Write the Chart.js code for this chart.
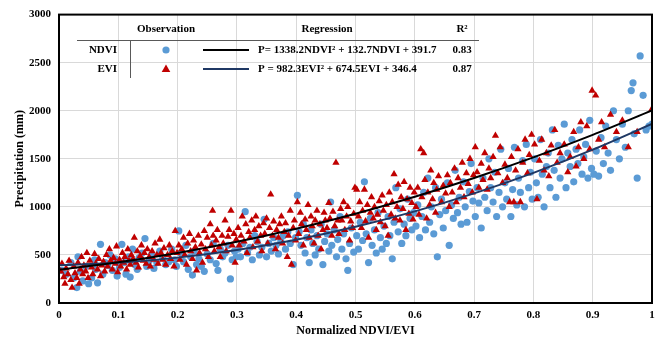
<!DOCTYPE html>
<html>
<head>
<meta charset="utf-8">
<script src="https://cdn.jsdelivr.net/npm/chart.js@4"></script>
<style>
  html, body { margin: 0; padding: 0; background: #fff; }
  #wrap { width: 662px; height: 342px; }
</style>
</head>
<body>
<div id="wrap"><canvas id="chart" width="662" height="342"></canvas></div>
<script>
// observed points, [normalized index, precipitation mm]
const ndviPoints = [
  [0.005,340],[0.012,300],[0.02,420],[0.025,260],[0.03,160],[0.032,480],[0.036,330],[0.04,230],[0.045,380],[0.05,200],[0.055,260],[0.06,450],[0.062,350],[0.065,210],[0.07,610],[0.074,300],[0.078,420],[0.082,390],[0.086,500],[0.09,340],[0.095,460],[0.098,280],
  [0.102,370],[0.106,610],[0.11,420],[0.113,300],[0.117,480],[0.12,270],[0.124,560],[0.128,400],[0.132,350],[0.135,470],[0.14,520],[0.145,670],[0.148,380],[0.152,440],[0.156,500],[0.16,360],[0.165,420],[0.17,540],[0.175,470],[0.18,400],[0.185,430],[0.19,560],[0.195,450],[0.198,380],
  [0.202,750],[0.205,520],[0.21,430],[0.214,600],[0.218,350],[0.222,480],[0.225,290],[0.228,540],[0.232,400],[0.236,460],[0.24,380],[0.245,330],[0.25,510],[0.255,450],[0.26,620],[0.265,410],[0.268,340],[0.272,560],[0.276,480],[0.28,520],[0.285,600],[0.289,250],[0.292,450],[0.296,540],[0.299,480],
  [0.302,560],[0.306,480],[0.31,620],[0.314,950],[0.318,520],[0.322,580],[0.326,450],[0.33,700],[0.334,640],[0.338,500],[0.342,580],[0.346,870],[0.35,480],[0.354,620],[0.358,540],[0.362,680],[0.366,600],[0.37,510],[0.374,640],[0.378,700],[0.382,560],[0.386,740],[0.39,620],[0.395,400],[0.399,680],
  [0.402,1120],[0.405,740],[0.408,600],[0.412,820],[0.415,520],[0.418,680],[0.422,420],[0.425,760],[0.428,620],[0.432,500],[0.435,700],[0.438,560],[0.442,820],[0.445,400],[0.448,640],[0.452,720],[0.455,540],[0.458,1050],[0.46,600],[0.464,760],[0.468,480],[0.47,660],[0.474,900],[0.477,560],[0.48,720],[0.484,460],[0.487,340],[0.49,620],[0.493,780],[0.497,530],
  [0.502,700],[0.505,560],[0.508,840],[0.512,650],[0.515,1260],[0.518,720],[0.522,420],[0.525,880],[0.528,600],[0.532,760],[0.535,520],[0.538,940],[0.542,680],[0.545,560],[0.548,800],[0.552,620],[0.555,900],[0.558,700],[0.562,460],[0.565,840],[0.568,1200],[0.572,740],[0.575,980],[0.578,620],[0.582,820],[0.585,700],[0.588,1080],[0.592,880],[0.595,760],[0.598,940],
  [0.602,800],[0.605,1020],[0.608,680],[0.612,900],[0.615,1150],[0.618,760],[0.622,1300],[0.625,840],[0.628,1000],[0.632,720],[0.635,1200],[0.638,480],[0.642,920],[0.645,1080],[0.648,780],[0.652,960],[0.655,1250],[0.658,600],[0.662,1020],[0.665,880],[0.668,1380],[0.672,940],[0.675,1100],[0.678,820],[0.682,1260],[0.685,1000],[0.688,840],[0.692,1160],[0.695,1450],[0.698,1060],
  [0.702,900],[0.705,1200],[0.708,1040],[0.712,780],[0.715,1300],[0.718,1100],[0.722,960],[0.725,1500],[0.728,1200],[0.732,1050],[0.735,1360],[0.738,900],[0.742,1150],[0.745,1600],[0.748,1000],[0.752,1250],[0.755,1080],[0.758,1400],[0.762,900],[0.765,1180],[0.768,1620],[0.772,1020],[0.775,1300],[0.778,1150],[0.782,1480],[0.785,1000],[0.788,1650],[0.792,1200],[0.795,1360],[0.798,1080],
  [0.802,1500],[0.805,1250],[0.808,1100],[0.812,1700],[0.815,1340],[0.818,1000],[0.822,1420],[0.825,1560],[0.828,1200],[0.832,1800],[0.835,1380],[0.838,1100],[0.842,1640],[0.845,1300],[0.848,1500],[0.852,1860],[0.855,1200],[0.858,1560],[0.862,1420],[0.865,1700],[0.868,1260],[0.872,1600],[0.875,1450],[0.878,1800],[0.882,1340],[0.885,1520],[0.888,1650],[0.892,1300],[0.895,1900],[0.898,1400],
  [0.902,1340],[0.906,1580],[0.91,1320],[0.914,1720],[0.918,1450],[0.922,1840],[0.926,1560],[0.93,1380],[0.935,2000],[0.94,1700],[0.945,1500],[0.95,1860],[0.955,1620],[0.96,2000],[0.965,2210],[0.968,2290],[0.97,1760],[0.975,1300],[0.98,2570],[0.985,2160],[0.99,1800],[0.995,1840],[1.0,1860]
];

const eviPoints = [
  [0.003,330],[0.005,410],[0.008,270],[0.01,200],[0.012,360],[0.015,300],[0.017,440],[0.02,240],[0.022,160],[0.025,380],[0.027,310],[0.03,260],[0.032,420],[0.034,200],[0.036,350],[0.038,480],[0.04,300],[0.042,390],[0.045,330],[0.047,520],[0.049,260],
  [0.052,440],[0.055,370],[0.057,300],[0.06,510],[0.062,410],[0.065,350],[0.067,460],[0.07,280],[0.072,390],[0.075,430],[0.077,330],[0.08,500],[0.082,380],[0.085,560],[0.087,440],[0.09,350],[0.092,470],[0.095,410],[0.097,590],[0.099,320],
  [0.102,450],[0.104,380],[0.107,520],[0.109,420],[0.111,480],[0.114,350],[0.116,560],[0.118,440],[0.12,400],[0.122,500],[0.125,460],[0.127,680],[0.13,420],[0.132,540],[0.134,370],[0.137,490],[0.139,600],[0.142,440],[0.144,520],[0.147,410],[0.149,560],
  [0.152,480],[0.154,380],[0.157,540],[0.16,450],[0.162,620],[0.165,500],[0.167,410],[0.17,660],[0.172,520],[0.175,450],[0.177,570],[0.18,400],[0.183,500],[0.186,600],[0.188,460],[0.191,540],[0.194,380],[0.196,750],[0.199,520],
  [0.202,600],[0.204,450],[0.207,560],[0.21,680],[0.212,500],[0.215,400],[0.217,620],[0.22,720],[0.222,540],[0.225,460],[0.227,650],[0.23,580],[0.232,340],[0.235,700],[0.237,520],[0.24,610],[0.242,420],[0.245,750],[0.247,560],[0.25,680],
  [0.252,480],[0.255,820],[0.257,600],[0.259,960],[0.26,700],[0.262,540],[0.265,650],[0.267,760],[0.27,580],[0.272,480],[0.275,700],[0.277,620],[0.28,860],[0.282,540],[0.285,690],[0.287,760],[0.29,960],[0.292,600],[0.295,720],[0.297,420],[0.299,660],
  [0.302,780],[0.304,600],[0.307,700],[0.309,900],[0.312,640],[0.315,820],[0.317,520],[0.32,740],[0.322,680],[0.325,860],[0.327,580],[0.33,760],[0.332,900],[0.335,640],[0.337,800],[0.34,700],[0.342,540],[0.345,830],[0.347,720],[0.35,880],
  [0.352,620],[0.355,780],[0.357,1130],[0.36,700],[0.362,850],[0.365,560],[0.367,760],[0.37,680],[0.372,820],[0.375,900],[0.377,620],[0.38,740],[0.382,830],[0.385,480],[0.387,700],[0.39,960],[0.392,400],[0.395,780],[0.397,860],[0.399,650],
  [0.402,1050],[0.404,720],[0.407,940],[0.409,820],[0.412,600],[0.415,870],[0.417,760],[0.42,1020],[0.422,680],[0.425,900],[0.427,800],[0.43,620],[0.432,860],[0.435,960],[0.437,700],[0.44,820],[0.442,560],[0.445,760],[0.447,940],[0.449,860],
  [0.452,780],[0.455,1040],[0.457,880],[0.46,700],[0.462,950],[0.465,800],[0.467,1460],[0.47,860],[0.472,720],[0.475,980],[0.477,860],[0.48,1050],[0.482,760],[0.485,900],[0.487,1000],[0.49,650],[0.492,850],[0.495,780],[0.497,930],[0.499,1200],
  [0.502,1180],[0.505,900],[0.507,1050],[0.51,780],[0.512,960],[0.515,1180],[0.517,850],[0.52,1020],[0.522,680],[0.525,940],[0.527,1100],[0.53,880],[0.532,1000],[0.535,760],[0.537,920],[0.54,1060],[0.542,840],[0.545,1120],[0.547,960],[0.55,800],
  [0.552,1020],[0.555,700],[0.557,1150],[0.56,920],[0.562,1050],[0.565,1340],[0.567,880],[0.57,1000],[0.572,1230],[0.575,860],[0.577,1100],[0.58,980],[0.582,1260],[0.585,760],[0.587,1080],[0.59,930],[0.592,1200],[0.595,1040],[0.597,870],[0.599,1150],
  [0.602,1000],[0.605,1200],[0.607,920],[0.61,1600],[0.612,1100],[0.615,1560],[0.617,1280],[0.62,880],[0.622,1150],[0.625,1020],[0.627,1380],[0.63,1080],[0.632,1250],[0.635,940],[0.637,1180],[0.64,1320],[0.645,1050],[0.648,1220],
  [0.652,1140],[0.655,1330],[0.658,1000],[0.66,1250],[0.663,1150],[0.667,1400],[0.67,1050],[0.673,1300],[0.677,1200],[0.68,1460],[0.683,1100],[0.687,1350],[0.69,1240],[0.693,1500],[0.697,1150],[0.699,1330],
  [0.702,1620],[0.705,1360],[0.708,1200],[0.712,1450],[0.715,1280],[0.718,1560],[0.722,1180],[0.725,1400],[0.728,1300],[0.732,1520],[0.736,1740],[0.74,1350],[0.744,1620],[0.748,1250],
  [0.752,1440],[0.756,1300],[0.76,1050],[0.763,1520],[0.767,1050],[0.77,1380],[0.774,1600],[0.778,1050],[0.782,1460],[0.786,1700],[0.79,1350],[0.793,1540],[0.797,1750],
  [0.802,1650],[0.806,1080],[0.81,1480],[0.814,1700],[0.818,1380],[0.822,1560],[0.826,1320],[0.83,1640],[0.836,1800],[0.84,1460],[0.845,1560],
  [0.852,1650],[0.858,1360],[0.862,1520],[0.868,1780],[0.872,1420],[0.876,1620],[0.88,1880],[0.885,1500],[0.89,1840],[0.895,1600],[0.899,2210],
  [0.905,2160],[0.91,1700],[0.915,1880],[0.92,1620],[0.93,1960],[0.94,1780],[0.95,1900],[0.96,1620],[0.975,1780],[1.0,2020]
];

// regression curves
const curveX = [0, 0.1, 0.2, 0.3, 0.4, 0.5, 0.6, 0.7, 0.8, 0.9, 1];
const blackCurve = [346, 424, 521, 637, 773, 929, 1105, 1300, 1515, 1749, 2003];
const navyCurve = [392, 418, 472, 552, 659, 793, 953, 1140, 1354, 1595, 1863];

// legend table rows
const tableHeader = ['Observation', 'Regression', 'R²'];
const rowNames = ['NDVI', 'EVI'];
const equations = ['P= 1338.2NDVI² + 132.7NDVI + 391.7', 'P = 982.3EVI² + 674.5EVI + 346.4'];
const r2Values = ['0.83', '0.87'];

const BLUE = '#5b9bd5';
const RED = '#c00000';
const NAVY = '#1f3864';
const FONT = "'Liberation Serif', 'Times New Roman', serif";

const toXY = arr => arr.map(p => ({ x: p[0], y: p[1] }));
const curve = vals => curveX.map((x, i) => ({ x: x, y: vals[i] }));

// frame + legend table
const tablePlugin = {
    id: 'tablePlugin',
    afterDraw(chart) {
        const ctx = chart.ctx;
        const a = chart.chartArea;
        ctx.save();
        ctx.strokeStyle = '#000';
        ctx.lineWidth = 2;
        ctx.strokeRect(a.left, a.top, a.right - a.left, a.bottom - a.top);

        ctx.font = 'bold 11px ' + FONT;
        ctx.fillStyle = '#000';
        ctx.textBaseline = 'middle';
        ctx.textAlign = 'center';
        ctx.fillText(tableHeader[0], 166, 29);
        ctx.fillText(tableHeader[1], 327, 29);
        ctx.fillText(tableHeader[2], 462, 29);

        ctx.strokeStyle = '#595959';
        ctx.lineWidth = 1;
        ctx.beginPath();
        ctx.moveTo(77, 40.5); ctx.lineTo(479, 40.5);
        ctx.moveTo(130.5, 40); ctx.lineTo(130.5, 78);
        ctx.stroke();

        const rowY = [50, 69];
        const lineColors = ['#000', NAVY];
        rowY.forEach((y, i) => {
            ctx.fillStyle = '#000';
            ctx.textAlign = 'right';
            ctx.fillText(rowNames[i], 117, y);
            ctx.textAlign = 'left';
            ctx.fillText(equations[i], 258, y);
            ctx.textAlign = 'center';
            ctx.fillText(r2Values[i], 462, y);
            ctx.strokeStyle = lineColors[i];
            ctx.lineWidth = 1.8;
            ctx.beginPath();
            ctx.moveTo(203, y); ctx.lineTo(249, y);
            ctx.stroke();
        });
        // markers
        ctx.fillStyle = BLUE;
        ctx.beginPath();
        ctx.arc(166, rowY[0], 3.6, 0, Math.PI * 2);
        ctx.fill();
        ctx.fillStyle = RED;
        ctx.beginPath();
        ctx.moveTo(166, rowY[1] - 4.5);
        ctx.lineTo(170.3, rowY[1] + 3);
        ctx.lineTo(161.7, rowY[1] + 3);
        ctx.closePath();
        ctx.fill();
        ctx.restore();
    }
};

new Chart(document.getElementById('chart').getContext('2d'), {
    type: 'scatter',
    data: {
        datasets: [
            {
                label: 'Black curve',
                data: curve(blackCurve),
                showLine: true,
                borderColor: '#000',
                borderWidth: 2,
                pointRadius: 0,
                cubicInterpolationMode: 'monotone',
                order: 0
            },
            {
                label: 'Navy curve',
                data: curve(navyCurve),
                showLine: true,
                borderColor: NAVY,
                borderWidth: 2,
                pointRadius: 0,
                cubicInterpolationMode: 'monotone',
                order: 1
            },
            {
                label: 'EVI',
                data: toXY(eviPoints),
                pointStyle: 'triangle',
                pointRadius: 4.2,
                backgroundColor: RED,
                borderColor: RED,
                borderWidth: 0,
                order: 2
            },
            {
                label: 'NDVI',
                data: toXY(ndviPoints),
                pointStyle: 'circle',
                pointRadius: 3.6,
                backgroundColor: BLUE,
                borderColor: BLUE,
                borderWidth: 0,
                order: 3
            }
        ]
    },
    options: {
        responsive: false,
        animation: false,
        events: [],
        layout: { padding: { top: 14, right: 10, left: 0, bottom: 0 } },
        plugins: { legend: { display: false }, tooltip: { enabled: false } },
        scales: {
            x: {
                type: 'linear',
                min: 0,
                max: 1,
                afterFit: s => { s.height = 39; },
                ticks: {
                    stepSize: 0.1,
                    padding: 6,
                    color: '#000',
                    font: { family: FONT, size: 11, weight: 'bold' },
                    callback: v => String(Number(v.toFixed(1)))
                },
                grid: { color: '#d9d9d9', lineWidth: 1, drawTicks: false },
                border: { display: false },
                title: {
                    display: true,
                    text: 'Normalized NDVI/EVI',
                    color: '#000',
                    font: { family: FONT, size: 12, weight: 'bold' },
                    padding: { top: 0, bottom: 4 }
                }
            },
            y: {
                min: 0,
                max: 3000,
                afterFit: s => { s.width = 59; },
                ticks: {
                    stepSize: 500,
                    padding: 8,
                    color: '#000',
                    font: { family: FONT, size: 11, weight: 'bold' },
                    callback: v => String(v)
                },
                grid: { color: '#d9d9d9', lineWidth: 1, drawTicks: false },
                border: { display: false },
                title: {
                    display: true,
                    text: 'Precipitation (mm)',
                    color: '#000',
                    font: { family: FONT, size: 12, weight: 'bold' },
                    padding: { top: 13, bottom: 0 }
                }
            }
        }
    },
    plugins: [tablePlugin]
});
</script>
</body>
</html>
